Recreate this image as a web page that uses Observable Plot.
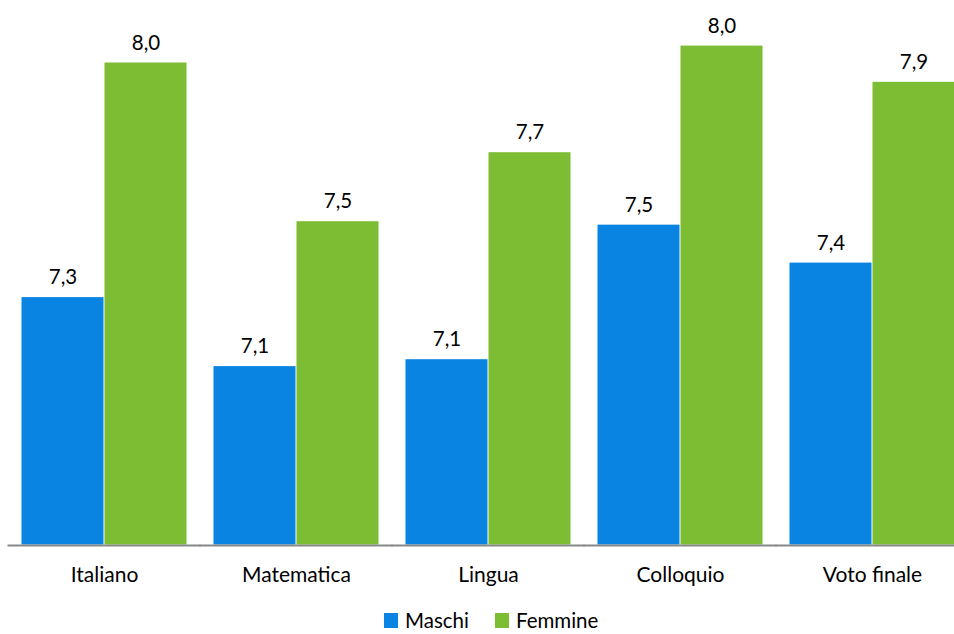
<!DOCTYPE html>
<html>
<head>
<meta charset="utf-8">
<script src="https://cdn.jsdelivr.net/npm/d3@7"></script>
<script src="https://cdn.jsdelivr.net/npm/@observablehq/plot@0.6"></script>
<style>
  body { margin: 0; background: #fff; font-family: Lato, sans-serif; overflow: hidden; }
  #chart svg { display: block; }
  #legend { display: flex; align-items: center; margin-left: 384px; margin-top: 6px; font-size: 20.5px; line-height: 20px; color: #000; }
  .sw { width: 14px; height: 15px; display: inline-block; margin-right: 7px; }
  .item { display: flex; align-items: center; margin-right: 26px; }
</style>
</head>
<body>
<div id="chart"></div>
<div id="legend"></div>
<script>
const categories = ["Italiano", "Matematica", "Lingua", "Colloquio", "Voto finale"];
const series = ["Maschi", "Femmine"];
const maschi = [7.32, 7.12, 7.14, 7.53, 7.42];
const femmine = [8.0, 7.54, 7.74, 8.049, 7.944];
const colors = ["#0984e3", "#7dbd34"];

const data = categories.flatMap((c, i) => [
  {cat: c, sex: "Maschi", value: maschi[i]},
  {cat: c, sex: "Femmine", value: femmine[i]}
]);
const fmt = v => v.toFixed(1).replace(".", ",");
const base = 6.6;

const chart = Plot.plot({
  width: 954,
  height: 604,
  marginLeft: 7,
  marginRight: 0,
  marginTop: 27.5,
  marginBottom: 59,
  style: {fontFamily: "Lato, sans-serif", background: "#fff"},
  fx: {domain: categories, range: [6.75, 969], paddingInner: 0.1377, paddingOuter: 0.069, label: null, axis: null},
  x: {domain: series, padding: 0, axis: null},
  y: {domain: [base, 8.1], axis: null},
  color: {domain: series, range: colors},
  marks: [
    Plot.barY(data, {fx: "cat", x: "sex", y1: base, y2: "value", fill: "sex", inset: 0.5}),
    Plot.text(data, {fx: "cat", x: "sex", y: "value", text: d => fmt(d.value), lineAnchor: "bottom", dy: -13, fontSize: 20.5, fill: "#000"}),
    Plot.ruleY([base], {stroke: "#888", strokeWidth: 2, insetLeft: -13.5, insetRight: -13.5}),
    Plot.axisFx({anchor: "bottom", tickSize: 0, tickPadding: 22, fontSize: 21, label: null, fill: "#000"})
  ]
});
document.getElementById("chart").appendChild(chart);

const legend = d3.select("#legend");
series.forEach((s, i) => {
  const it = legend.append("div").attr("class", "item");
  it.append("span").attr("class", "sw").style("background", colors[i]);
  it.append("span").text(s);
});
</script>
</body>
</html>
